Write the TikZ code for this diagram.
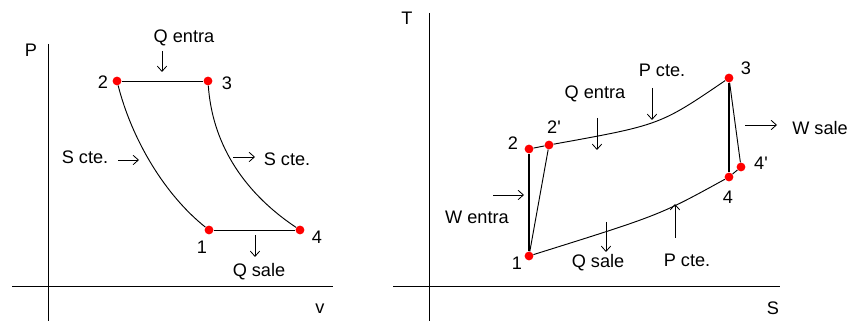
\documentclass[tikz,border=0pt]{standalone}
\usepackage{fontspec}
\setmainfont{Liberation Sans}
\usetikzlibrary{arrows.meta}
\begin{document}
\begin{tikzpicture}[x=0.03cm,y=-0.03cm,
  font=\fontsize{15.5}{18}\selectfont,
  punto/.style={circle,fill=red,inner sep=0pt,minimum size=7.5pt},
  testo/.style={inner sep=0pt},
  freccia/.style={-{Straight Barb[length=4.5pt,width=8pt]},line width=0.7pt},
  ciclo/.style={line width=0.8pt}]
\useasboundingbox (0,0) rectangle (857,321);
        % diagramma P-v: assi
        \draw[line width=0.8pt] (12,286)-- (333,286);
        \draw[line width=0.8pt] (48,44)-- (48,321);
        \node[testo] (asseP) at (31,50) {P};
        \node[testo] (assev) at (320,309) {v};
        % punti del ciclo P-v
        \node[punto] (a1) at (209,230) {};
        \node[punto] (a2) at (117,81) {};
        \node[punto] (a3) at (208,81) {};
        \node[punto] (a4) at (300,230) {};
        \node[testo] (na1) at (202,247) {1};
        \node[testo] (na2) at (103,82) {2};
        \node[testo] (na3) at (227,83) {3};
        \node[testo] (na4) at (317,237) {4};
        % linee del ciclo P-v
        \draw[ciclo] (a2)-- (a3);
        \draw[ciclo] (a1)-- (a4);
        \draw[ciclo] (a2) .. controls (132,140) and (165,195) .. (a1);
        \draw[ciclo] (a3) .. controls (212,140) and (240,190) .. (a4);
        % etichette P-v
        \node[testo] (qinA) at (184,38) {Q entra};
        \draw[freccia] (162,51)-- (162,72);
        \node[testo] (sctA) at (85,157) {S cte.};
        \draw[freccia] (118,160)-- (139,160);
        \node[testo] (sctB) at (287,159) {S cte.};
        \draw[freccia] (233,157)-- (255,157);
        \node[testo] (qoutA) at (259,272) {Q sale};
        \draw[freccia] (255,235)-- (255,257);
        % diagramma T-S: assi
        \draw[line width=0.8pt] (393,286)-- (780,286);
        \draw[line width=0.8pt] (429,13)-- (429,321);
        \node[testo] (asseT) at (407,18) {T};
        \node[testo] (asseS) at (773,308) {S};
        % punti del ciclo T-S
        \node[punto] (b1) at (529,256) {};
        \node[punto] (b2) at (529,149) {};
        \node[punto] (b2p) at (549,145) {};
        \node[punto] (b3) at (729,78) {};
        \node[punto] (b4) at (729,177) {};
        \node[punto] (b4p) at (741,167) {};
        \node[testo] (nb1) at (517,263) {1};
        \node[testo] (nb2) at (513,143) {2};
        \node[testo] (nb2p) at (554,127) {2\textquotesingle};
        \node[testo] (nb3) at (746,68) {3};
        \node[testo] (nb4) at (728,197) {4};
        \node[testo] (nb4p) at (761,163) {4\textquotesingle};
        % linee del ciclo T-S
        \draw[line width=1.4pt] (b1)-- (b2);
        \draw[ciclo] (b2)-- (b2p);
        \draw[ciclo] (b1)-- (b2p);
        \draw[ciclo] (b2p) .. controls (660,125) .. (b3);
        \draw[line width=1.4pt] (b3)-- (b4);
        \draw[ciclo] (b3)-- (b4p);
        \draw[ciclo] (b4)-- (b4p);
        \draw[ciclo] (b1) .. controls (660,215) .. (b4);
        % etichette T-S
        \node[testo] (pctA) at (662,70) {P cte.};
        \draw[freccia] (652,88)-- (652,120);
        \node[testo] (qinB) at (595,94) {Q entra};
        \draw[freccia] (597,118)-- (597,150);
        \node[testo] (wout) at (820,128) {W sale};
        \draw[freccia] (745,125)-- (777,125);
        \node[testo] (win) at (477,217) {W entra};
        \draw[freccia] (493,195)-- (524,195);
        \node[testo] (qoutB) at (598,263) {Q sale};
        \draw[freccia] (606,222)-- (606,252);
        \node[testo] (pctB) at (687,260) {P cte.};
        \draw[freccia] (675,238)-- (675,204);
    \end{tikzpicture}
\end{document}
